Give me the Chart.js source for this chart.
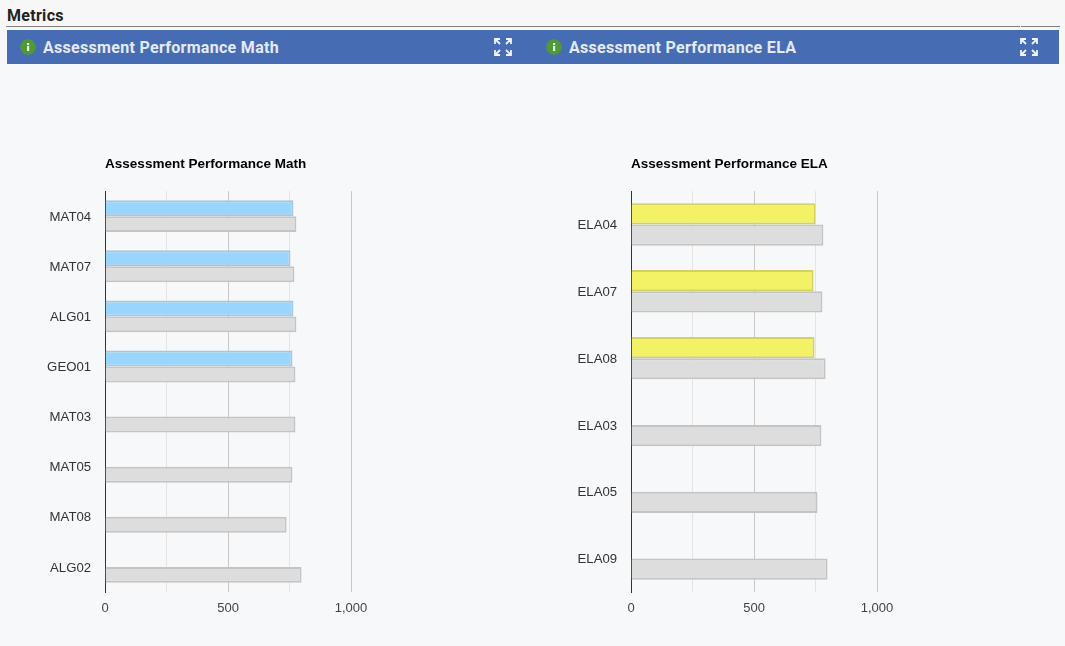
<!DOCTYPE html>
<html><head><meta charset="utf-8">
<script src="https://cdn.jsdelivr.net/npm/chart.js@4/dist/chart.umd.min.js"></script>
<style>
html,body{margin:0;padding:0;width:1065px;height:646px;overflow:hidden;background:#f7f8fa}
#top{position:absolute;left:0;top:0;width:1065px;height:64px;background:#f7f7f7}
#metrics{position:absolute;left:7px;top:7px;font:700 16px Roboto,sans-serif;letter-spacing:.3px;color:#222;line-height:18px}
.rule{position:absolute;top:26px;height:1px;background:#808080}
#banner{position:absolute;left:7px;top:30px;width:1052px;height:34px;background:#466db3}
.bt{position:absolute;top:38px;font:700 16px Roboto,sans-serif;letter-spacing:.3px;color:#e4e9f3;line-height:19px;white-space:nowrap}
.ic{position:absolute;top:39px}
canvas{position:absolute;top:64px}
</style></head><body>
<div id="top"></div>
<div id="metrics">Metrics</div>
<div class="rule" style="left:6px;width:1014px"></div>
<div class="rule" style="left:1021px;width:39px"></div>
<div id="banner"></div>
<svg class="ic" style="left:19.5px" width="16" height="16" viewBox="0 0 16 16"><circle cx="8" cy="8" r="7.8" fill="#4f9a35"/><rect x="7" y="7" width="2.2" height="5" fill="#eaf3e4"/><rect x="7" y="4" width="2.2" height="2" fill="#eaf3e4"/></svg>
<div class="bt" style="left:43px">Assessment Performance Math</div>
<svg class="ic" style="left:494px;top:38px" width="18" height="18" viewBox="0 0 18 18"><g fill="none" stroke="#f0f3f8" stroke-width="1.8"><path d="M1 6V1H6M1 1L6 6M12 1H17V6M17 1L12 6M1 12V17H6M1 17L6 12M12 17H17V12M17 17L12 12"/></g></svg>
<svg class="ic" style="left:546px" width="16" height="16" viewBox="0 0 16 16"><circle cx="8" cy="8" r="7.8" fill="#4f9a35"/><rect x="7" y="7" width="2.2" height="5" fill="#eaf3e4"/><rect x="7" y="4" width="2.2" height="2" fill="#eaf3e4"/></svg>
<div class="bt" style="left:569px">Assessment Performance ELA</div>
<svg class="ic" style="left:1020px;top:38px" width="18" height="18" viewBox="0 0 18 18"><g fill="none" stroke="#f0f3f8" stroke-width="1.8"><path d="M1 6V1H6M1 1L6 6M12 1H17V6M17 1L12 6M1 12V17H6M1 17L6 12M12 17H17V12M17 17L12 12"/></g></svg>
<canvas id="math" style="left:0" width="526" height="582"></canvas>
<canvas id="ela" style="left:526px" width="526" height="582"></canvas>
<script>
const mathCategories = ["MAT04","MAT07","ALG01","GEO01","MAT03","MAT05","MAT08","ALG02"];
const mathSchool = [766,754,766,762,null,null,null,null];
const mathState = [778,770,778,774,774,762,738,799];
const elaCategories = ["ELA04","ELA07","ELA08","ELA03","ELA05","ELA09"];
const elaSchool = [750,742,746,null,null,null];
const elaState = [782,778,791,774,758,799];
const xTicks = [0,250,500,750,1000];

function build(id,title,labels,first,second,firstColor,firstBorder,catPct){
  new Chart(document.getElementById(id),{
    type:'bar',
    data:{labels,datasets:[
      {label:'School',data:first,backgroundColor:firstColor,borderColor:firstBorder,borderWidth:2,categoryPercentage:catPct,barPercentage:1},
      {label:'State',data:second,backgroundColor:'#dddddd',borderColor:'#c4c4c4',borderWidth:2,categoryPercentage:catPct,barPercentage:1}
    ]},
    options:{
      indexAxis:'y',responsive:false,animation:false,devicePixelRatio:1,
      layout:{padding:{left:0,right:175,top:0,bottom:0}},
      plugins:{
        legend:{display:false},tooltip:{enabled:false},
        title:{display:true,text:title,align:'start',fullSize:false,color:'#000',
          font:{family:'"Liberation Sans",Arial,sans-serif',size:13.5,weight:'bold',lineHeight:1.2},
          padding:{top:91.9,bottom:19.0}}
      },
      scales:{
        x:{min:0,max:1000,
          afterBuildTicks(a){a.ticks=xTicks.map(v=>({value:v}));},
          afterFit(a){a.height=54;},
          ticks:{autoSkip:false,maxRotation:0,padding:9,color:'#444',font:{family:'"Liberation Sans",Arial,sans-serif',size:13},
            callback:v=>v%500===0?v.toLocaleString('en-US'):''},
          grid:{drawTicks:false,color:c=>c.tick&&c.tick.value%500===0?'#c8c8c8':'#e4e4e4',lineWidth:1},
          border:{display:false}},
        y:{
          afterFit(a){a.width=105.1;},
          ticks:{padding:14,labelOffset:1,color:'#333',font:{family:'"Liberation Sans",Arial,sans-serif',size:13.2}},
          grid:{display:false,drawTicks:false},
          border:{display:true,color:'#333',width:1}}
      }
    }
  });
}
build('math','Assessment Performance Math',mathCategories,mathSchool,mathState,'#99d6ff','#a8c6da',0.635);
build('ela','Assessment Performance ELA',elaCategories,elaSchool,elaState,'#f3f266','#d2d264',0.635);
</script>
</body></html>
